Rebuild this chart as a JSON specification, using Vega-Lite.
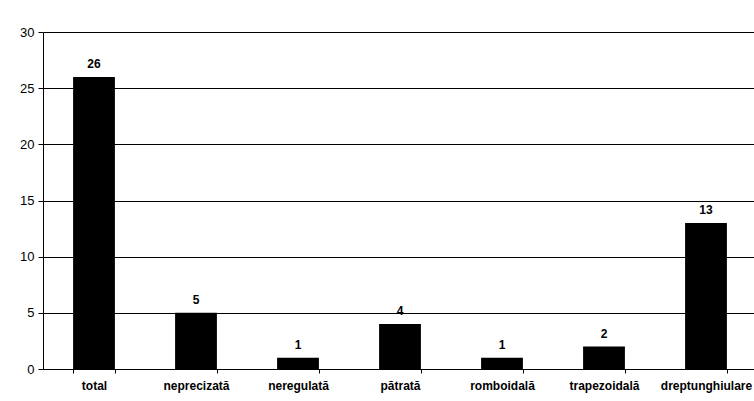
{
  "$schema": "https://vega.github.io/schema/vega-lite/v6.json",
  "autosize": "none",
  "width": 714,
  "height": 337,
  "padding": {"left": 43, "top": 32, "right": 0, "bottom": 32},
  "background": "white",
  "config": {"view": {"stroke": null}, "font": "Liberation Sans"},
  "data": {"values": [
    {"forma": "total", "n": 26},
    {"forma": "neprecizată", "n": 5},
    {"forma": "neregulată", "n": 1},
    {"forma": "pătrată", "n": 4},
    {"forma": "romboidală", "n": 1},
    {"forma": "trapezoidală", "n": 2},
    {"forma": "dreptunghiulare", "n": 13}
  ]},
  "encoding": {
    "x": {"field": "forma", "type": "nominal", "sort": null,
      "scale": {"paddingInner": 0.59, "paddingOuter": 0.295},
      "axis": {"title": null, "labelAngle": 0, "labelFontWeight": "bold", "labelFontSize": 12, "labelColor": "black",
        "domainColor": "black", "tickColor": "black", "tickBand": "extent", "tickSize": 4, "labelPadding": 7}},
    "y": {"field": "n", "type": "quantitative",
      "scale": {"domain": [0, 30]},
      "axis": {"title": null, "values": [0, 5, 10, 15, 20, 25, 30], "labelFontSize": 13, "labelColor": "black",
        "domainColor": "black", "tickColor": "black", "tickSize": 5, "labelPadding": 4,
        "grid": true, "gridColor": "black", "gridOpacity": 1}}
  },
  "layer": [
    {"mark": {"type": "bar", "color": "black"}},
    {"mark": {"type": "text", "dy": -13, "fontWeight": "bold", "fontSize": 12, "color": "black"},
     "encoding": {"text": {"field": "n", "type": "quantitative"}}}
  ]
}
